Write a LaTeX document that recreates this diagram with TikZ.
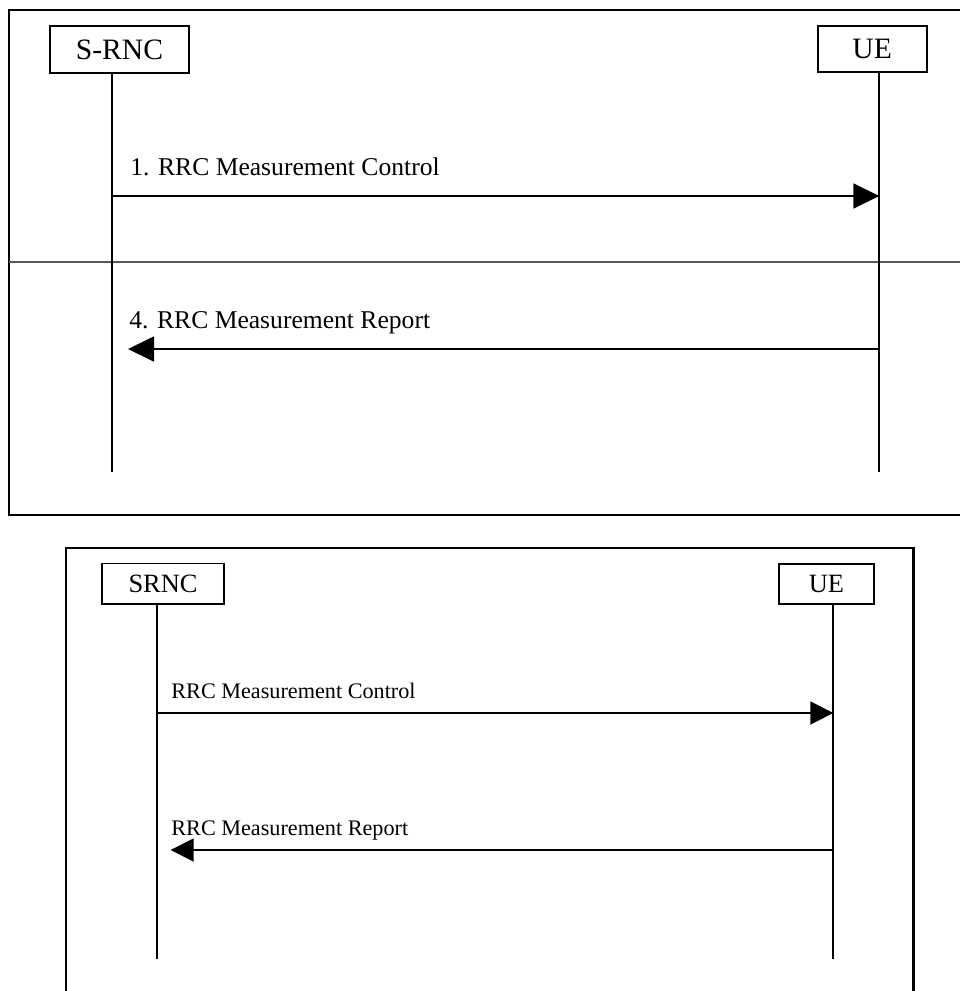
\documentclass[tikz,border=0pt]{standalone}
\usepackage{fontspec}
\setmainfont{Liberation Serif}
\usetikzlibrary{arrows.meta}
\begin{document}
\begin{tikzpicture}[x=0.5pt, y=-0.5pt,
  entity/.style={draw, line width=0.8pt, inner sep=0pt},
  life/.style={line width=0.9pt},
  frame/.style={line width=1.1pt},
  msgA/.style={line width=0.9pt, -{Triangle[length=13pt, width=12.5pt]}},
  msgB/.style={line width=0.9pt, -{Triangle[length=11.5pt, width=11.5pt]}}]
\useasboundingbox (0,0) rectangle (959,991);
% upper chart
\draw[frame] (960,10) -- (9,10) -- (9,515) -- (960,515);
\draw[gray!70!black, line width=0.6pt] (9,262) -- (960,262);
\node[entity, minimum width=69.5pt, minimum height=23.5pt, font=\fontsize{14.8}{16}\selectfont] (a) at (119.5,49.5) {S-RNC};
\node[entity, minimum width=54.5pt, minimum height=23pt, font=\fontsize{14.8}{16}\selectfont] (b) at (872.2,49) {UE};
\coordinate (a1) at (112,73);  \coordinate (a2) at (112,472);
\coordinate (b1) at (879.3,73); \coordinate (b2) at (879.3,472);
\draw[life] (a1) -- (a2);
\draw[life] (b1) -- (b2);
\coordinate (m1s) at (112,196);   \coordinate (m1e) at (879.3,196);
\coordinate (m2s) at (879.3,349); \coordinate (m2e) at (128,349);
\draw[msgA] (m1s) -- (m1e);
\draw[msgA] (m2s) -- (m2e);
\node[anchor=base west, inner sep=0pt, font=\fontsize{12.8}{14}\selectfont] (l1) at (130,175) {1. RRC Measurement Control};
\node[anchor=base west, inner sep=0pt, font=\fontsize{12.8}{14}\selectfont] (l2) at (129,328) {4. RRC Measurement Report};
% lower chart
\draw[frame] (65.7,995) -- (65.7,548) -- (913.5,548) -- (913.5,995);
\node[entity, minimum width=61pt, minimum height=20.25pt, font=\fontsize{13.2}{14}\selectfont] (c) at (163,583.7) {SRNC};
\node[entity, minimum width=47.5pt, minimum height=20pt, font=\fontsize{13.2}{14}\selectfont] (d) at (826.5,583.8) {UE};
\coordinate (c1) at (156.7,604); \coordinate (c2) at (156.7,959);
\coordinate (d1) at (833.3,604); \coordinate (d2) at (833.3,959);
\draw[life] (c1) -- (c2);
\draw[life] (d1) -- (d2);
\coordinate (m3s) at (156.7,713); \coordinate (m3e) at (833.3,713);
\coordinate (m4s) at (833.3,850); \coordinate (m4e) at (170.7,850);
\draw[msgB] (m3s) -- (m3e);
\draw[msgB] (m4s) -- (m4e);
\node[anchor=base west, inner sep=0pt, font=\fontsize{11.1}{12}\selectfont] (l3) at (171,698) {RRC Measurement Control};
\node[anchor=base west, inner sep=0pt, font=\fontsize{11.1}{12}\selectfont] (l4) at (171,835) {RRC Measurement Report};
\end{tikzpicture}
\end{document}
